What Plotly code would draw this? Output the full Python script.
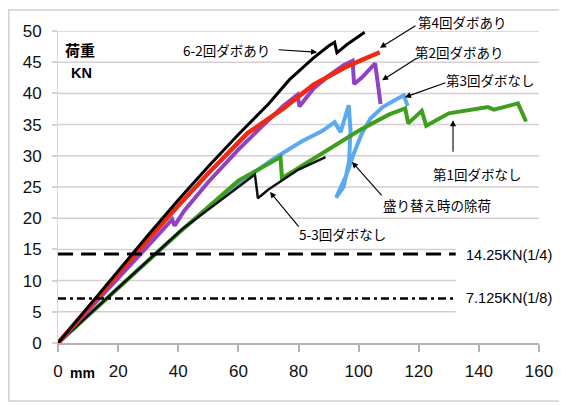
import plotly.graph_objects as go

# ---- data ----
x_62 = [0, 10, 20, 30, 40, 50, 60, 65, 70, 77, 85, 90, 92, 92.8, 96, 99, 102]
y_62 = [0, 5.8, 11.6, 17.3, 22.9, 28.3, 33.4, 35.8, 38.3, 42.2, 45.7, 47.6, 48.2, 46.5, 47.8, 48.8, 49.8]

x_4 = [0, 10, 20, 30, 40, 50, 63, 75, 85, 96, 107]
y_4 = [0, 5.6, 11.1, 16.6, 22.0, 27.2, 33.6, 37.6, 41.4, 44.3, 46.6]

x_2 = [0, 10, 20, 30, 38, 38.8, 42, 50, 60, 68, 75, 79.7, 80.3, 85, 90, 95, 98, 98.5, 101, 105.5, 107.3]
y_2 = [0, 5.1, 10.4, 15.6, 19.8, 18.8, 21.2, 25.8, 31.0, 34.8, 38.0, 39.8, 37.9, 40.8, 42.8, 44.5, 45.2, 41.5, 42.5, 44.8, 38.3]

x_3 = [0, 20, 40, 55, 65, 71, 81, 88, 92, 94, 96.7, 97.3, 96.8, 95, 92.5, 96, 98.5, 101, 104, 108, 112, 115, 116.3]
y_3 = [0, 8.9, 17.6, 23.8, 27.3, 29.3, 32.3, 34.0, 35.4, 33.8, 38.1, 34.0, 29.0, 25.0, 23.3, 27.0, 30.5, 33.5, 36.0, 37.8, 38.9, 39.7, 38.0]

x_1 = [0, 20, 40, 60, 74, 74.5, 81, 90, 100, 110, 115.5, 116.5, 121, 122.5, 130, 143, 145, 153, 155.7]
y_1 = [0, 8.9, 17.6, 26.0, 29.8, 26.4, 28.3, 31.0, 34.0, 36.6, 37.6, 35.2, 37.2, 34.8, 36.8, 37.8, 37.4, 38.4, 35.5]

x_53 = [0, 20, 41.7, 55, 65.5, 66.5, 70, 80, 89]
y_53 = [0, 8.9, 18.4, 23.2, 27.0, 23.2, 24.6, 27.8, 29.8]

ref_quarter = 14.25
ref_eighth = 7.125
ref_end_x = 132.3

x_ticks = [0, 20, 40, 60, 80, 100, 120, 140, 160]
y_ticks = [0, 5, 10, 15, 20, 25, 30, 35, 40, 45, 50]

JP = "Noto Sans CJK JP"
NUM = "Liberation Sans Narrow, Liberation Sans, Arial"
GRID = "#d8cdd1"

# the page body adds an 8px offset; figure is sized to fill the rest of the window
L, T, R, B = 50, 23, 28, 62
W, H = 559, 397
PW, PH = W - L - R, H - T - B

fig = go.Figure()

def add_line(x, y, color, width):
    fig.add_trace(go.Scatter(x=x, y=y, mode="lines",
                             line=dict(color=color, width=width),
                             hoverinfo="skip", showlegend=False))

add_line(x_3, y_3, "#5aaaf0", 4)
add_line(x_1, y_1, "#3f9e1e", 4)
add_line(x_53, y_53, "#111111", 2.5)
add_line(x_2, y_2, "#9142c4", 4)
add_line(x_4, y_4, "#ee2a16", 4.5)
add_line(x_62, y_62, "#000000", 3)

fig.add_trace(go.Scatter(x=[0, ref_end_x], y=[ref_quarter, ref_quarter], mode="lines",
                         line=dict(color="#000000", width=3, dash="15px,8px"),
                         hoverinfo="skip", showlegend=False))
fig.add_trace(go.Scatter(x=[0, ref_end_x], y=[ref_eighth, ref_eighth], mode="lines",
                         line=dict(color="#000000", width=2.5, dash="8px,4px,3px,4px"),
                         hoverinfo="skip", showlegend=False))

def px(fx):
    return (fx - L) / PW

def py(fy):
    return (T + PH - fy) / PH

shapes = []
for v in y_ticks[1:]:
    x1 = ref_end_x if v < 20 else 160
    shapes.append(dict(type="line", xref="x", yref="y", x0=-1.7, x1=x1, y0=v, y1=v,
                       line=dict(color=GRID, width=1.5), layer="below"))
shapes.append(dict(type="rect", xref="paper", yref="paper",
                   x0=px(0.8), x1=px(553), y0=py(393), y1=py(2),
                   line=dict(color="#cfcfcf", width=1.5), layer="below"))

ann = []
def label(x, y, text, size=13.5, bold=False, font=JP, ref="x"):
    ann.append(dict(x=x, y=y, xref="x" if ref == "x" else "paper",
                    yref="y" if ref == "x" else "paper",
                    text=f"<b>{text}</b>" if bold else text,
                    showarrow=False, font=dict(family=font, size=size, color="#000"),
                    xanchor="center", yanchor="middle"))

def arrow(tx, ty, hx, hy):
    ann.append(dict(x=hx, y=hy, ax=tx, ay=ty, xref="x", yref="y", axref="x", ayref="y",
                    text="", showarrow=True, arrowhead=2, arrowsize=1.1, arrowwidth=1.1,
                    arrowcolor="#000", standoff=0, startstandoff=0))

label(56.2, 47.0, "6-2回ダボあり")
arrow(72.9, 47.0, 86.2, 46.6)
label(px(454), py(14), "第4回ダボあり", ref="paper")
arrow(119.4, 51.0, 107.1, 47.3)
label(133.7, 46.6, "第2回ダボあり")
arrow(119.8, 45.8, 107.8, 42.1)
label(143.7, 42.1, "第3回ダボなし")
arrow(129.4, 41.8, 115.4, 39.4)
label(139.7, 27.1, "第1回ダボなし")
arrow(131.4, 30.4, 131.4, 35.7)
label(126.1, 22.1, "盛り替え時の除荷")
arrow(108.1, 23.4, 97.8, 29.0)
label(94.8, 17.5, "5-3回ダボなし")
arrow(80.5, 18.4, 70.5, 24.2)

label(150.0, 14.1, "14.25KN(1/4)", size=14.5, font=NUM)
label(150.0, 7.2, "7.125KN(1/8)", size=14.5, font=NUM)
label(7.3, 47.0, "荷重", size=15, bold=True)
label(7.7, 43.3, "KN", size=14.5, bold=True, font="Liberation Sans, Arial")
label(px(74), py(365), "mm", size=14, bold=True, font="Liberation Sans, Arial", ref="paper")

fig.update_layout(
    width=W, height=H,
    margin=dict(l=L, r=R, t=T, b=B, autoexpand=False),
    paper_bgcolor="white", plot_bgcolor="white",
    shapes=shapes, annotations=ann,
    showlegend=False,
)
fig.update_xaxes(range=[0, 160], tickvals=x_ticks, showgrid=False, zeroline=False,
                 automargin=False,
                 showline=True, linecolor="#b9b0b3", linewidth=1.5,
                 ticks="outside", ticklen=7, tickcolor="#b9b0b3", tickwidth=1.5,
                 ticklabelstandoff=5,
                 tickfont=dict(family=NUM, size=17, color="#111"))
fig.update_yaxes(range=[0, 50], tickvals=y_ticks, showgrid=False, zeroline=False,
                 automargin=False,
                 showline=True, linecolor="#ddd3d6", linewidth=1,
                 ticks="outside", ticklen=5, tickcolor=GRID, tickwidth=1.5,
                 ticklabelstandoff=7,
                 tickfont=dict(family=NUM, size=17, color="#111"))

fig.write_html("out.html")
